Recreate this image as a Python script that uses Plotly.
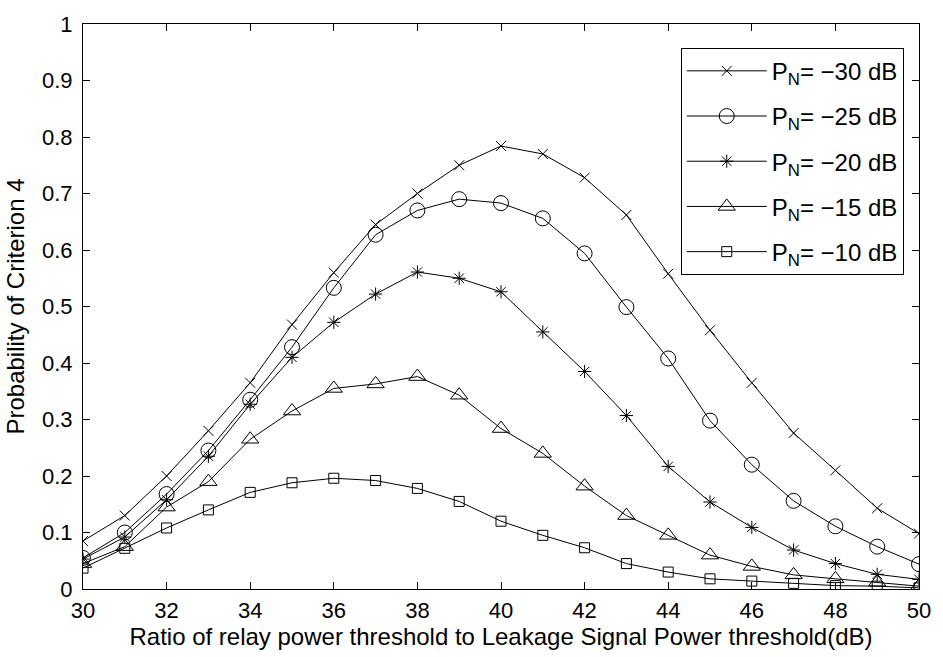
import plotly.graph_objects as go

x_vals = list(range(30, 51))

pn_m30 = [0.085, 0.130, 0.200, 0.280, 0.365, 0.468, 0.560, 0.645, 0.700, 0.750, 0.784,
          0.770, 0.728, 0.662, 0.558, 0.458, 0.365, 0.276, 0.210, 0.143, 0.098]
pn_m25 = [0.055, 0.100, 0.168, 0.245, 0.335, 0.428, 0.533, 0.627, 0.670, 0.690, 0.683,
          0.656, 0.594, 0.499, 0.408, 0.298, 0.220, 0.156, 0.111, 0.075, 0.044]
pn_m20 = [0.053, 0.092, 0.158, 0.235, 0.327, 0.410, 0.472, 0.522, 0.561, 0.550, 0.526,
          0.455, 0.385, 0.307, 0.217, 0.154, 0.109, 0.069, 0.045, 0.026, 0.017]
pn_m15 = [0.045, 0.075, 0.145, 0.190, 0.265, 0.315, 0.355, 0.363, 0.376, 0.343, 0.284,
          0.240, 0.182, 0.130, 0.095, 0.060, 0.040, 0.025, 0.018, 0.012, 0.005]
pn_m10 = [0.037, 0.072, 0.108, 0.140, 0.171, 0.188, 0.196, 0.192, 0.178, 0.155, 0.120,
          0.095, 0.073, 0.045, 0.030, 0.018, 0.014, 0.010, 0.006, 0.005, 0.002]

series_names = ["P<sub>N</sub>= \u221230 dB", "P<sub>N</sub>= \u221225 dB", "P<sub>N</sub>= \u221220 dB",
                "P<sub>N</sub>= \u221215 dB", "P<sub>N</sub>= \u221210 dB"]
series_vals = [pn_m30, pn_m25, pn_m20, pn_m15, pn_m10]
symbols = ["x-thin-open", "circle-open", "asterisk-open", "triangle-up-open", "square-open"]
sizes = [10, 15, 11, 15, 10]

x_ticks = list(range(30, 51, 2))
y_ticks = [0, 0.1, 0.2, 0.3, 0.4, 0.5, 0.6, 0.7, 0.8, 0.9, 1]
y_tick_text = ["0", "0.1", "0.2", "0.3", "0.4", "0.5", "0.6", "0.7", "0.8", "0.9", "1"]

FONT = "Liberation Sans, Arial, Helvetica, sans-serif"

fig = go.Figure()
for i, (name, vals, sym, sz) in enumerate(zip(series_names, series_vals, symbols, sizes)):
    fig.add_trace(go.Scatter(
        x=x_vals, y=vals, name=name, mode="lines+markers",
        line=dict(color="black", width=1),
        marker=dict(symbol=sym, size=sz, color="black", line=dict(color="black", width=1)),
        legendgroup=f"g{i}",
    ))

axis_common = dict(
    showgrid=False, zeroline=False, showline=True, linecolor="black", linewidth=1,
    mirror="ticks", ticks="inside", ticklen=7, tickcolor="black", tickwidth=1,
    tickfont=dict(family=FONT, size=22, color="black"),
)

fig.update_xaxes(range=[30, 50], tickvals=x_ticks, ticklabelstandoff=2,
                 title=dict(text="Ratio of relay power threshold to Leakage Signal Power threshold(dB)",
                            font=dict(family=FONT, size=24, color="black"), standoff=2),
                 **axis_common)
fig.update_yaxes(range=[0, 1], tickvals=y_ticks, ticktext=y_tick_text, ticklabelstandoff=5,
                 title=dict(text="Probability of Criterion 4",
                            font=dict(family=FONT, size=24, color="black"), standoff=10),
                 **axis_common)

fig.update_layout(
    width=943, height=657,
    margin=dict(l=83, r=16, t=13, b=68),
    plot_bgcolor="white", paper_bgcolor="white",
    font=dict(family=FONT, color="black"),
    legend=dict(x=0.715, y=0.958, xanchor="left", yanchor="top",
                bgcolor="white", bordercolor="black", borderwidth=1,
                font=dict(family=FONT, size=24, color="black"),
                itemwidth=80, tracegroupgap=11),
)

fig.write_html("out.html")
